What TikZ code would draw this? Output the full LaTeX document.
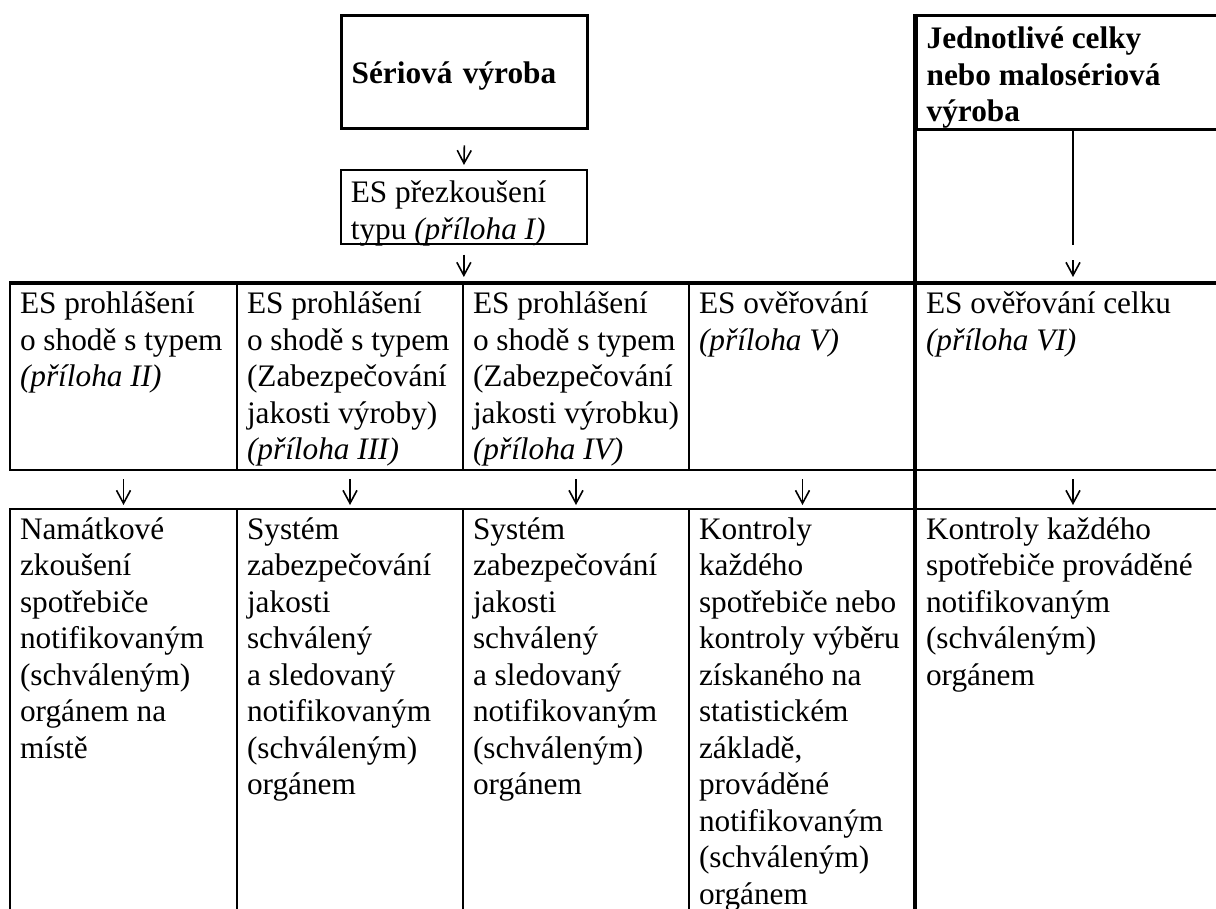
\documentclass[tikz,border=0pt]{standalone}
\usepackage{fontspec}
\setmainfont{Liberation Serif}
\usetikzlibrary{arrows.meta}

\newcommand{\cellbox}[4][30pt]{\hspace*{10pt}\parbox[t][#3][t]{\dimexpr#2-10pt\relax}{\raggedright\rule{0pt}{#1}#4}}

\begin{document}
\begin{tikzpicture}[
          x = 1pt, y = -1pt,
          font = \fontsize{31.3pt}{36.5pt}\selectfont,
          inner sep = 0, anchor = north west,
          arr/.style = {-{Straight Barb[length=13pt, width=14pt]}, line width = 1.6pt}
        ]
          \tikzstyle {cell} = [draw, line width = 2pt]
          \tikzstyle {heavy} = [draw, line width = 3.3pt]
          \useasboundingbox (0,0) rectangle (1216,909);
          % place nodes
          \path node (serie) [heavy, text width = 226pt, inner xsep = 10pt, minimum height = 113pt,
            text height = 30pt, text depth = 7pt] at (340,14) {\textbf{Sériová výroba}};
          \path node (prezk) [cell, line width = 1.7pt] at (340,169)
            {\cellbox[33pt]{246pt}{74pt}{ES přezkoušení\\typu \textit{(příloha I)}}};
          \path node (jedn) [heavy] at (915,14)
            {\cellbox[33pt]{314pt}{114pt}{\bfseries Jednotlivé celky\\nebo malosériová\\výroba}};
          \path node (p1) [cell] at (9,283) {\cellbox{227pt}{186pt}{ES prohlášení\\o shodě s typem\\\textit{(příloha II)}}};
          \path node (p2) [cell] at (236,283) {\cellbox{226pt}{186pt}{ES prohlášení\\o shodě s typem\\(Zabezpečování\\jakosti výroby)\\\textit{(příloha III)}}};
          \path node (p3) [cell] at (462,283) {\cellbox{226pt}{186pt}{ES prohlášení\\o shodě s typem\\(Zabezpečování\\jakosti výrobku)\\\textit{(příloha IV)}}};
          \path node (p4) [cell] at (688,283) {\cellbox{227pt}{186pt}{ES ověřování\\\textit{(příloha V)}}};
          \path node (p5) [cell] at (915,283) {\cellbox{314pt}{186pt}{ES ověřování celku\\\textit{(příloha VI)}}};
          \path node (k1) [cell] at (9,508) {\cellbox{227pt}{420pt}{Namátkové\\zkoušení\\spotřebiče\\notifikovaným\\(schváleným)\\orgánem na\\místě}};
          \path node (k2) [cell] at (236,508) {\cellbox{226pt}{420pt}{Systém\\zabezpečování\\jakosti\\schválený\\a sledovaný\\notifikovaným\\(schváleným)\\orgánem}};
          \path node (k3) [cell] at (462,508) {\cellbox{226pt}{420pt}{Systém\\zabezpečování\\jakosti\\schválený\\a sledovaný\\notifikovaným\\(schváleným)\\orgánem}};
          \path node (k4) [cell] at (688,508) {\cellbox{227pt}{420pt}{Kontroly\\každého\\spotřebiče nebo\\kontroly výběru\\získaného na\\statistickém\\základě,\\prováděné\\notifikovaným\\(schváleným)\\orgánem}};
          \path node (k5) [cell] at (915,508) {\cellbox{314pt}{420pt}{Kontroly každého\\spotřebiče prováděné\\notifikovaným\\(schváleným)\\orgánem}};
          % heavy rules
          \draw [line width = 3.3pt] (p1.north west) -- (p5.north east);
          \draw [line width = 3.3pt] (jedn.north west) -- ++(0,930);
          % place edges
          \draw [arr, shorten <= 15pt, shorten >= 4pt] (serie.south) -- (prezk.north);
          \draw [arr, shorten <= 10pt, shorten >= 6pt] (prezk.south) -- (prezk.south |- p2.north);
          \draw [line width = 1.7pt] (p5.north |- jedn.south) -- ++(0,114) coordinate (jgap);
          \draw [arr, shorten <= 15pt, shorten >= 6pt] (jgap) -- (p5.north);
          \foreach \x in {1, ..., 5}
            { \draw [arr, shorten <= 8pt, shorten >= 3pt] (p\x.south) -- (k\x.north) ; } ;
        \end{tikzpicture}
\end{document}
